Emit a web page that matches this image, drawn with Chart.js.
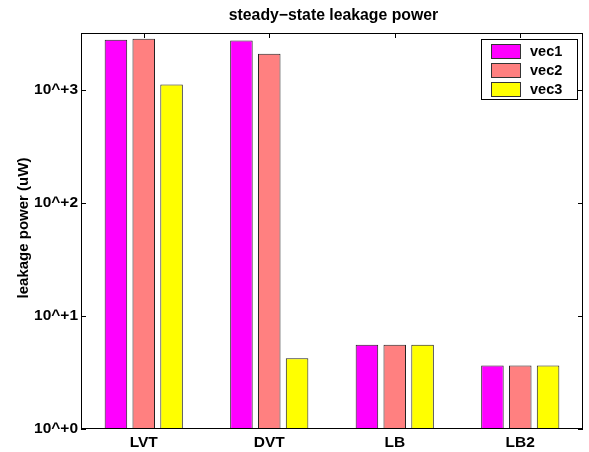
<!DOCTYPE html>
<html><head><meta charset="utf-8">
<script src="https://cdn.jsdelivr.net/npm/chart.js@4/dist/chart.umd.min.js"></script>
<style>html,body{margin:0;padding:0;background:#fff}#c{display:block}</style>
</head><body><canvas id="c" width="589" height="452"></canvas>
<script>
const categories = ['LVT', 'DVT', 'LB', 'LB2'];
const seriesNames = ['vec1', 'vec2', 'vec3'];
const vec1 = [2750, 2710, 5.56, 3.65];
const vec2 = [2810, 2070, 5.56, 3.65];
const vec3 = [1107, 4.21, 5.56, 3.65];
const seriesColors = ['#ff00ff', '#ff8080', '#ffff00'];
const yTicks = [1, 10, 100, 1000];
const yTickLabels = ['10^+0', '10^+1', '10^+2', '10^+3'];
const titleText = 'steady\u2212state leakage power';
const yTitleText = 'leakage power (uW)';

const FONT = '"Liberation Sans", Arial, Helvetica, sans-serif';

const decor = {
  id: 'decor',
  beforeDatasetsDraw(chart) {
    const ctx = chart.ctx, a = chart.chartArea;
    const xs = chart.scales.x, ys = chart.scales.y;
    ctx.save();
    ctx.strokeStyle = '#000'; ctx.lineWidth = 1;
    ctx.beginPath();
    yTicks.forEach(v => {
      const y = Math.round(ys.getPixelForValue(v)) + 0.5;
      ctx.moveTo(a.left, y); ctx.lineTo(a.left + 5, y);
      ctx.moveTo(a.right, y); ctx.lineTo(a.right - 5, y);
    });
    categories.forEach((c, i) => {
      const x = Math.round(xs.getPixelForValue(i)) + 0.5;
      ctx.moveTo(x, a.top); ctx.lineTo(x, a.top + 5);
      ctx.moveTo(x, a.bottom); ctx.lineTo(x, a.bottom - 5);
    });
    ctx.stroke();
    ctx.restore();
  },
  afterDraw(chart) {
    const ctx = chart.ctx, a = chart.chartArea;
    ctx.save();
    ctx.strokeStyle = '#000'; ctx.lineWidth = 1;
    ctx.strokeRect(Math.round(a.left) + 0.5, Math.round(a.top) + 0.5,
      Math.round(a.right - a.left) - 1, Math.round(a.bottom - a.top) - 1);
    // title
    ctx.fillStyle = '#000';
    ctx.font = 'bold 15.8px ' + FONT;
    ctx.textAlign = 'center'; ctx.textBaseline = 'middle';
    ctx.fillText(titleText, 333.5, 16);
    // y title
    ctx.save();
    ctx.translate(23.5, 228);
    ctx.rotate(-Math.PI / 2);
    ctx.font = 'bold 15px ' + FONT;
    ctx.fillText(yTitleText, 0, 0);
    ctx.restore();
    // legend
    const lx = 481.5, ly = 39.5, lw = 96, lh = 60;
    ctx.fillStyle = '#fff';
    ctx.fillRect(lx, ly, lw, lh);
    ctx.strokeStyle = '#000';
    ctx.strokeRect(lx, ly, lw, lh);
    ctx.font = 'bold 14.5px ' + FONT;
    ctx.textAlign = 'left';
    chart.data.datasets.forEach((ds, i) => {
      const top = 44.5 + i * 19;
      ctx.fillStyle = ds.backgroundColor;
      ctx.fillRect(491.5, top, 29, 14);
      ctx.strokeStyle = '#333';
      ctx.strokeRect(491.5, top, 29, 14);
      ctx.fillStyle = '#000';
      ctx.fillText(ds.label, 530, top + 7.5);
    });
    ctx.restore();
  }
};

const seriesData = [vec1, vec2, vec3];
new Chart(document.getElementById('c'), {
  type: 'bar',
  data: {
    labels: categories,
    datasets: seriesNames.map((n, i) => ({
      label: n,
      data: seriesData[i],
      backgroundColor: seriesColors[i],
      borderColor: '#222',
      borderWidth: 1,
      borderSkipped: false,
      categoryPercentage: 0.665,
      barPercentage: 0.81
    }))
  },
  options: {
    responsive: false,
    animation: false,
    devicePixelRatio: 1,
    layout: { padding: { left: 0, top: 33, right: 6, bottom: 0 } },
    plugins: { legend: { display: false }, title: { display: false }, tooltip: { enabled: false } },
    scales: {
      x: {
        type: 'category',
        offset: true,
        grid: { display: false, drawTicks: false },
        border: { display: false },
        ticks: { color: '#000', font: { family: FONT, size: 15.5, weight: 'bold' }, padding: 4, maxRotation: 0 },
        afterFit(s) { s.height = 23; }
      },
      y: {
        type: 'logarithmic',
        min: 1,
        max: Math.pow(10, 3.5),
        grid: { display: false, drawTicks: false },
        border: { display: false },
        afterBuildTicks(s) { s.ticks = yTicks.map(v => ({ value: v })); },
        ticks: {
          color: '#000',
          font: { family: FONT, size: 15.5, weight: 'bold' },
          padding: 3,
          callback: (v) => { const k = yTicks.indexOf(v); return k >= 0 ? yTickLabels[k] : ''; }
        },
        afterFit(s) { s.width = 81; }
      }
    }
  },
  plugins: [decor]
});
</script>
</body></html>
